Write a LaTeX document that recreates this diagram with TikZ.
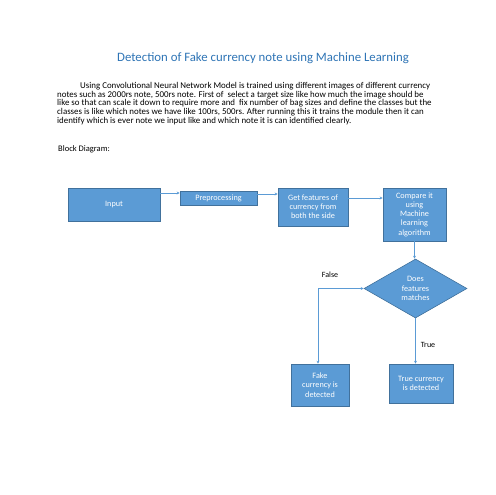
\documentclass[tikz,border=0pt]{standalone}
\usepackage{fontspec}
\setmainfont{Carlito}
\usetikzlibrary{arrows.meta,shapes.geometric,positioning,calc}
\definecolor{boxblue}{RGB}{91,155,213}
\definecolor{edgeblue}{RGB}{65,113,156}
\definecolor{titleblue}{RGB}{46,116,181}

\begin{document}
\begin{tikzpicture}[x=1pt, y=-1pt,
    block/.style={draw=edgeblue, line width=0.6pt, fill=boxblue, rectangle, text=white, inner sep=1pt, align=center, font=\fontsize{8.2}{9.2}\selectfont},
    decision/.style={block, diamond, aspect=1.75, minimum width=103pt, minimum height=59pt, inner sep=0pt},
    arrow/.style={-{Stealth[length=3pt, width=3pt]}, line width=0.6pt, boxblue},
    label/.style={font=\fontsize{8}{9}\selectfont, text=black}
]
\useasboundingbox (0,0) rectangle (495,495);

% Heading and text
\node[text=titleblue, font=\fontsize{12.8}{14}\selectfont] (title) at (263,58) {Detection of Fake currency note using Machine Learning};
\node[anchor=north west, inner sep=0pt, align=left, font=\fontsize{8.9}{8.8}\selectfont] (para) at (57,82) {\hspace*{23pt}Using Convolutional Neural Network Model is trained using different images of different currency\\notes such as 2000rs note, 500rs note. First of \ select a target size like how much the image should be\\like so that can scale it down to require more and \ fix number of bag sizes and define the classes but the\\classes is like which notes we have like 100rs, 500rs. After running this it trains the module then it can\\identify which is ever note we input like and which note it is can identified clearly.};
\node[anchor=west, inner sep=0pt, font=\fontsize{8.5}{9}\selectfont] (blk) at (58,149) {Block Diagram:};

% Top row
\node[block, minimum width=92pt, minimum height=33pt] (input) at (114,204.5) {Input};
\node[block, minimum width=77pt, minimum height=14pt] (pre) at (218.5,198) {Preprocessing};
\node[block, minimum width=70pt, minimum height=38pt] (feat) at (313,207) {Get features of\\currency from\\both the side};
\node[block, minimum width=63pt, minimum height=53pt] (comp) at (414.5,214.5) {Compare it\\using\\Machine\\learning\\algorithm};

% Decision
\node[decision] (match) at (415.5,288.5) {Does\\features\\matches};

% Results
\node[block, minimum width=58pt, minimum height=42pt] (fake) at (320,385) {Fake\\currency is\\detected};
\node[block, minimum width=64pt, minimum height=39pt] (true) at (421,383.5) {True currency\\is detected};

% Arrows
\coordinate (prein) at ([yshift=5pt]pre.west);
\coordinate (preout) at ([yshift=4pt]pre.east);
\coordinate (featout) at ([yshift=9pt]feat.east);
\draw[arrow] (input.east |- prein) -- (prein);
\draw[arrow] (preout) -- (preout -| feat.west);
\draw[arrow] (featout) -- (featout -| comp.west);
\draw[arrow] (comp.south) -- (comp.south |- match.north);
\draw[arrow, {Stealth[length=3pt, width=3pt]}-{Stealth[length=3pt, width=3pt]}] (match.west) -| ([xshift=-2pt]fake.north);
\draw[arrow] (match.south) -- (match.south |- true.north);

% Labels
\node[label] (nolbl) at (330,275) {False};
\node[label] (yeslbl) at (428,345) {True};

\end{tikzpicture}
\end{document}
